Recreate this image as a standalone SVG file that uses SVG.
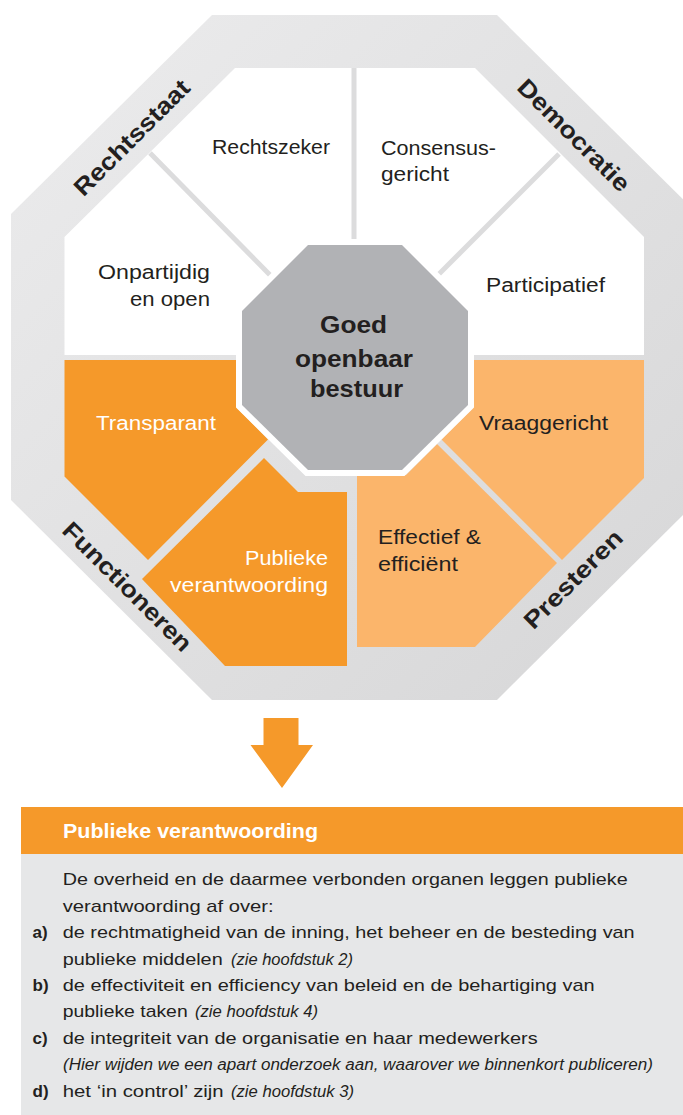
<svg xmlns="http://www.w3.org/2000/svg" width="683" height="1115" viewBox="0 0 683 1115">
<defs>
<linearGradient id="band" x1="0" y1="0" x2="1" y2="1">
<stop offset="0" stop-color="#ececed"/>
<stop offset="1" stop-color="#d6d6d7"/>
</linearGradient>
<style>
.lbl{font-family:"Liberation Sans",Arial,sans-serif;font-size:19.5px;fill:#231f20}
.wht{fill:#ffffff}
.outer{font-family:"Liberation Sans",Arial,sans-serif;font-size:24px;font-weight:bold;fill:#231f20}
.ctr{font-family:"Liberation Sans",Arial,sans-serif;font-size:24.5px;font-weight:bold;fill:#231f20}
.body{font-family:"Liberation Sans",Arial,sans-serif;font-size:17px;fill:#231f20}
.bold{font-weight:bold}
.it{font-family:"Liberation Sans",Arial,sans-serif;font-size:16px;font-style:italic;fill:#231f20}
.hdr{font-family:"Liberation Sans",Arial,sans-serif;font-size:20px;font-weight:bold;fill:#ffffff}
.div{stroke:#dcdcdd;stroke-width:5;fill:none}
.dark{fill:#f5992a}
.light{fill:#fbb56b}
</style>
</defs>
<rect width="683" height="1115" fill="#ffffff"/>

<g id="outer-band">
<polygon points="212,15 497,15 698,214 698,500 497,700 212,700 11,500 11,214" fill="url(#band)"/>
</g>

<g id="upper-area">
<polygon points="235,68 475,68 644,237 644,355 64.5,355 64.5,237" fill="#ffffff"/>
</g>

<g id="connectors">
<line class="div" x1="354" y1="68" x2="354" y2="240"/>
<line class="div" x1="150" y1="153" x2="271" y2="276"/>
<line class="div" x1="559" y1="154" x2="437" y2="276"/>
</g>

<g id="node-transparant">
<polygon class="dark" points="64.5,360 237,360 237,408 268,439.5 148,560 64.5,476.5"/>
<text class="lbl wht" x="96" y="430" textLength="120" lengthAdjust="spacingAndGlyphs">Transparant</text>
</g>
<g id="node-publieke">
<polygon class="dark" points="264,458 298,492 347,492 347,666 225,666 142,579"/>
<text class="lbl wht" x="245" y="565" textLength="83" lengthAdjust="spacingAndGlyphs">Publieke</text>
<text class="lbl wht" x="170" y="592" textLength="158" lengthAdjust="spacingAndGlyphs">verantwoording</text>
</g>
<g id="node-effectief">
<polygon class="light" points="357,475 406,475 437,444 557,563 475,647 357,647"/>
<text class="lbl" x="378" y="544" textLength="103" lengthAdjust="spacingAndGlyphs">Effectief &amp;</text>
<text class="lbl" x="378" y="571" textLength="80" lengthAdjust="spacingAndGlyphs">efficiënt</text>
</g>
<g id="node-vraaggericht">
<polygon class="light" points="472,360 644,360 644,478 562,560 441.5,439.5 472,409"/>
<text class="lbl" x="479" y="430" textLength="129" lengthAdjust="spacingAndGlyphs">Vraaggericht</text>
</g>

<g id="node-rechtszeker">
<text class="lbl" x="212" y="154" textLength="118" lengthAdjust="spacingAndGlyphs">Rechtszeker</text>
</g>
<g id="node-consensus">
<text class="lbl" x="381" y="155" textLength="115" lengthAdjust="spacingAndGlyphs">Consensus-</text>
<text class="lbl" x="381" y="181" textLength="68" lengthAdjust="spacingAndGlyphs">gericht</text>
</g>
<g id="node-onpartijdig">
<text class="lbl" x="98" y="279" textLength="112" lengthAdjust="spacingAndGlyphs">Onpartijdig</text>
<text class="lbl" x="130" y="306" textLength="80" lengthAdjust="spacingAndGlyphs">en open</text>
</g>
<g id="node-participatief">
<text class="lbl" x="486" y="292" textLength="119" lengthAdjust="spacingAndGlyphs">Participatief</text>
</g>

<g id="node-center">
<polygon points="305.5,239 404.5,239 474,308.5 474,407.5 404.5,476 305.5,476 236,407.5 236,308.5" fill="#ffffff"/>
<polygon points="308,245 402,245 468,311 468,405 402,470 308,470 242,405 242,311" fill="#b1b2b5"/>
<text class="ctr" x="320" y="333" textLength="67" lengthAdjust="spacingAndGlyphs">Goed</text>
<text class="ctr" x="295" y="367" textLength="118" lengthAdjust="spacingAndGlyphs">openbaar</text>
<text class="ctr" x="310" y="397" textLength="93" lengthAdjust="spacingAndGlyphs">bestuur</text>
</g>

<g id="label-rechtsstaat">
<text class="outer" x="-76.5" y="0" transform="translate(137.5,143.5) rotate(-45)" textLength="153" lengthAdjust="spacingAndGlyphs">Rechtsstaat</text>
</g>
<g id="label-democratie">
<text class="outer" x="-74" y="0" transform="translate(568,141) rotate(45)" textLength="148" lengthAdjust="spacingAndGlyphs">Democratie</text>
</g>
<g id="label-functioneren">
<text class="outer" x="-86" y="0" transform="translate(121.5,592.5) rotate(45)" textLength="172" lengthAdjust="spacingAndGlyphs">Functioneren</text>
</g>
<g id="label-presteren">
<text class="outer" x="-64.5" y="0" transform="translate(579,585) rotate(-45)" textLength="129" lengthAdjust="spacingAndGlyphs">Presteren</text>
</g>

<g id="arrow">
<polygon class="dark" points="263.5,718 298.5,718 298.5,745 313,745 282,788 250.5,745 263.5,745"/>
</g>

<g id="info-box">
<rect x="21" y="807" width="662" height="47" fill="#f5992a"/>
<rect x="21" y="854" width="662" height="261" fill="#e6e7e8"/>
<text class="hdr" x="63" y="838" textLength="255" lengthAdjust="spacingAndGlyphs">Publieke verantwoording</text>

<text class="body" x="62.7" y="885" textLength="565" lengthAdjust="spacingAndGlyphs">De overheid en de daarmee verbonden organen leggen publieke</text>
<text class="body" x="62.7" y="911.5" textLength="211" lengthAdjust="spacingAndGlyphs">verantwoording af over:</text>

<text class="body bold" x="32.5" y="938">a)</text>
<text class="body" x="62.7" y="938" textLength="572" lengthAdjust="spacingAndGlyphs">de rechtmatigheid van de inning, het beheer en de besteding van</text>
<text class="body" x="62.7" y="964.5" textLength="160" lengthAdjust="spacingAndGlyphs">publieke middelen</text>
<text class="it" x="231" y="964.5" textLength="122" lengthAdjust="spacingAndGlyphs">(zie hoofdstuk 2)</text>

<text class="body bold" x="32.5" y="990.5">b)</text>
<text class="body" x="62.7" y="990.5" textLength="532" lengthAdjust="spacingAndGlyphs">de effectiviteit en efficiency van beleid en de behartiging van</text>
<text class="body" x="62.7" y="1017" textLength="125" lengthAdjust="spacingAndGlyphs">publieke taken</text>
<text class="it" x="195" y="1017" textLength="123" lengthAdjust="spacingAndGlyphs">(zie hoofdstuk 4)</text>

<text class="body bold" x="32.5" y="1043.5">c)</text>
<text class="body" x="62.7" y="1043.5" textLength="475" lengthAdjust="spacingAndGlyphs">de integriteit van de organisatie en haar medewerkers</text>
<text class="it" x="63" y="1070" textLength="590" lengthAdjust="spacingAndGlyphs">(Hier wijden we een apart onderzoek aan, waarover we binnenkort publiceren)</text>

<text class="body bold" x="32.5" y="1096.5">d)</text>
<text class="body" x="62.7" y="1096.5" textLength="161" lengthAdjust="spacingAndGlyphs">het ‘in control’ zijn</text>
<text class="it" x="231" y="1096.5" textLength="123" lengthAdjust="spacingAndGlyphs">(zie hoofdstuk 3)</text>
</g>
</svg>
